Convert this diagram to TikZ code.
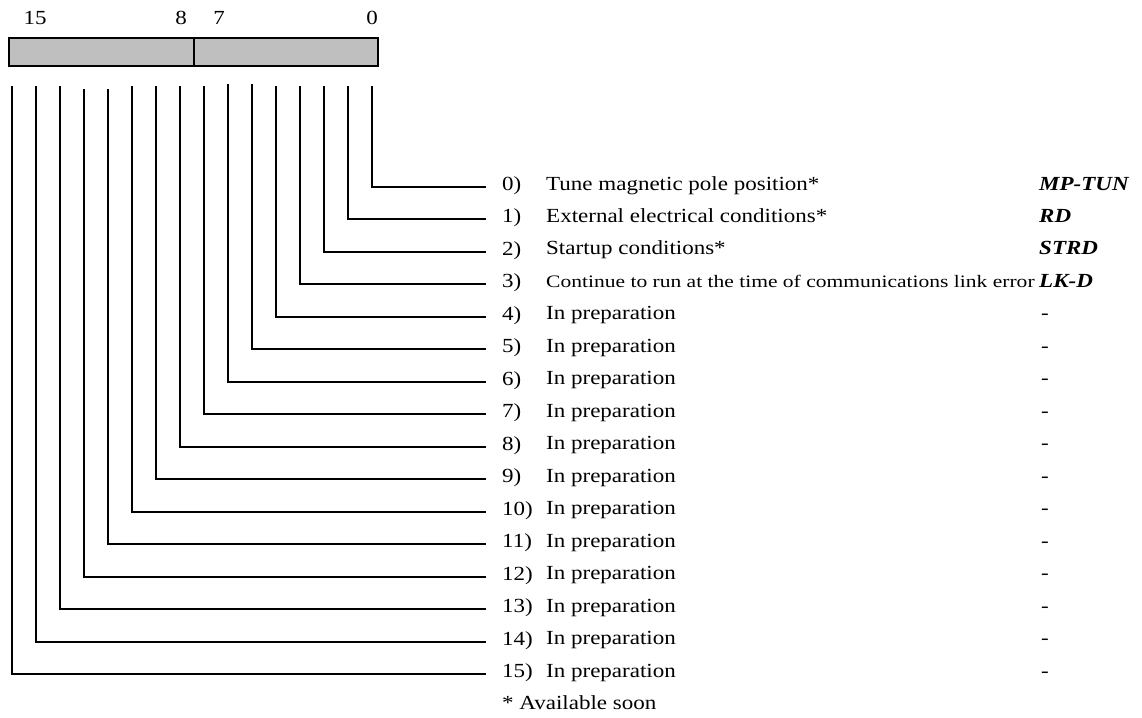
\documentclass[tikz,border=0pt]{standalone}
\usepackage{graphicx}
\usepackage{fontspec}
\setmainfont{Liberation Serif}
% text in this sheet is set slightly wide
\newcommand{\wide}[2][1.15]{\scalebox{#1}[1]{#2}}
\begin{document}
\begin{tikzpicture}[x=1pt,y=-1pt,
  wire/.style={line width=1.8pt, line cap=rect},
  txt/.style={inner sep=0pt, anchor=base west, font=\fontsize{20}{24}\selectfont},
  num/.style={inner sep=0pt, anchor=base, font=\fontsize{20}{24}\selectfont},
  code/.style={txt, font=\fontsize{20}{24}\selectfont\bfseries\itshape},
  register/.style={draw, line width=1.8pt, fill=black!25}]
\useasboundingbox (0,0) rectangle (1142,717);

% register word, bits 15..0
\draw[register] (9,38) rectangle (378,66);
\draw[line width=1.8pt] (194,38) -- (194,66);
\node[num] (h15) at (35,25) {\wide{15}};
\node[num] (h8)  at (181,25) {\wide{8}};
\node[num] (h7)  at (219,25) {\wide{7}};
\node[num] (h0)  at (372,25) {\wide{0}};

% one lead per bit, from the register down and out to its row
\foreach \b/\top in {0/87,1/87,2/87,3/87,4/87,5/85,6/85,7/87,8/87,9/87,10/87,11/90,12/90,13/87,14/87,15/87} {
  \pgfmathsetmacro{\xx}{372-24*\b}
  \pgfmathsetmacro{\yy}{round(187+32.47*\b)}
  \coordinate (t\b) at (\xx,\top);
  \coordinate (r\b) at (485,\yy);
  \node[txt] (k\b) at (502,\yy+3) {\wide{\b)}};
  \draw[wire] (t\b) |- (r\b);
}

% row descriptions
\node[txt] (d0) at (546,190) {\wide{Tune magnetic pole position*}};
\node[txt] (d1) at (546,190+32.47) {\wide{External electrical conditions*}};
\node[txt] (d2) at (546,190+2*32.47) {\wide{Startup conditions*}};
\node[txt, font=\fontsize{17.5}{20}\selectfont] (d3) at (546,190+3*32.47) {\wide[1.23]{Continue to run at the time of communications link error}};
\foreach \b in {4,...,15} {
  \node[txt] (d\b) at (546,190+\b*32.47) {\wide{In preparation}};
}

% abbreviations
\node[code] (c0) at (1039,190) {\wide{MP-TUN}};
\node[code] (c1) at (1039,190+32.47) {\wide{RD}};
\node[code] (c2) at (1039,190+2*32.47) {\wide{STRD}};
\node[code] (c3) at (1039,190+3*32.47) {\wide{LK-D}};
\foreach \b in {4,...,15} {
  \node[txt] (c\b) at (1041,190+\b*32.47) {\wide{-}};
}

\node[txt] (note) at (502,190+16*32.47) {\wide{* Available soon}};
\end{tikzpicture}
\end{document}
